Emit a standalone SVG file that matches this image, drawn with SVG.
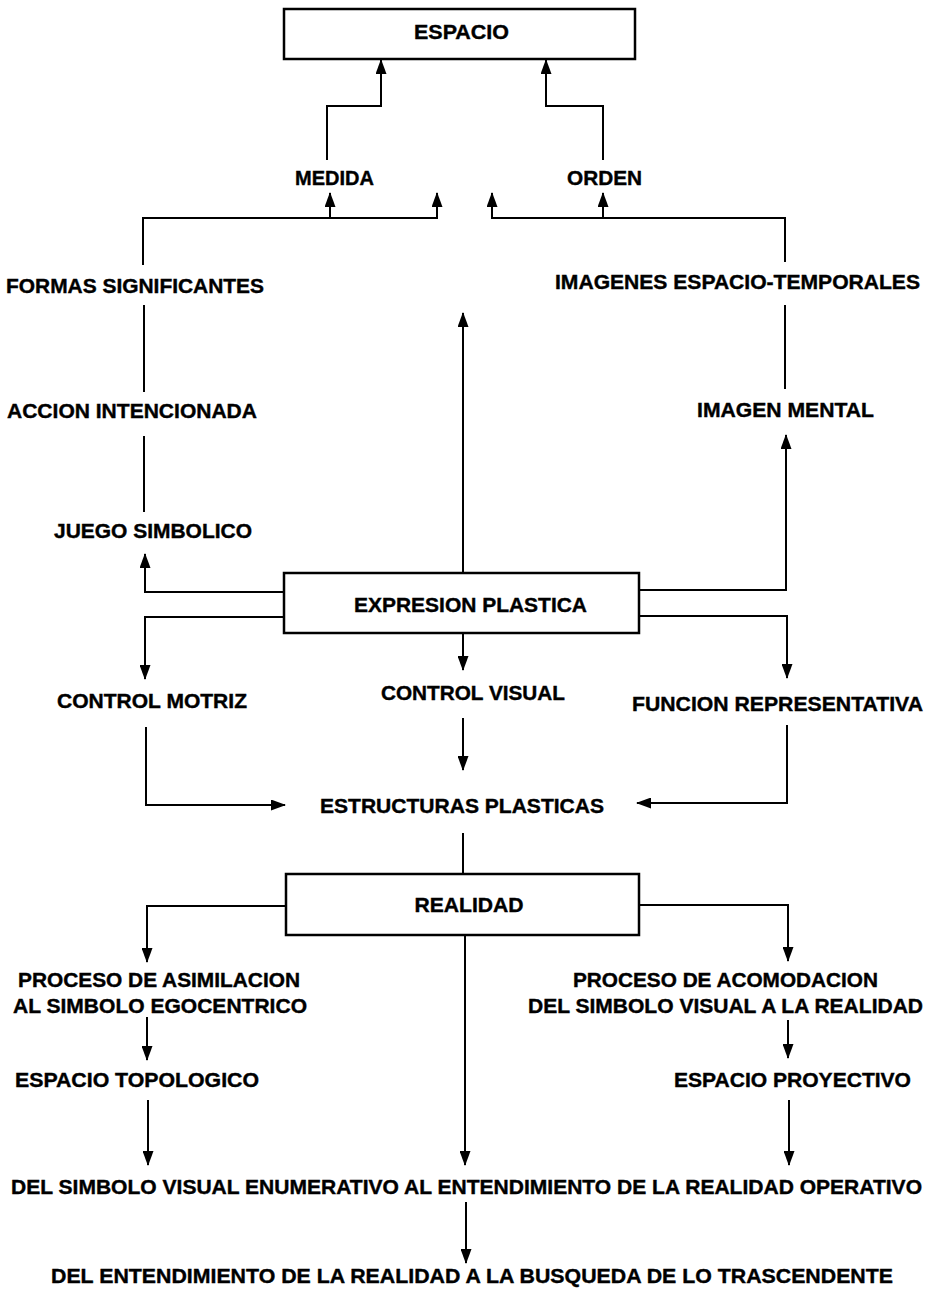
<svg xmlns="http://www.w3.org/2000/svg" width="940" height="1296" viewBox="0 0 940 1296">
<defs>
<marker id="ah" viewBox="0 0 15 11" refX="14" refY="5.5" markerWidth="15" markerHeight="11" markerUnits="userSpaceOnUse" orient="auto">
<path d="M0,0 L15,5.5 L0,11 z" fill="#000"/>
</marker>
<style>
text{font-family:"Liberation Sans",Arial,sans-serif;font-weight:bold;font-size:21px;fill:#000;stroke:#000;stroke-width:0.4;text-anchor:middle}
.box{fill:#fff;stroke:#000;stroke-width:2.5}
.c{fill:none;stroke:#000;stroke-width:2}
.a{fill:none;stroke:#000;stroke-width:2;marker-end:url(#ah)}
</style>
</defs>
<rect width="940" height="1296" fill="#fff"/>
<g id="connectors">
<path class="a" d="M327,160 V106 H381 V60"/>
<path class="a" d="M603,160 V106 H546 V60"/>
<path class="a" d="M143,265 V218 H437 V193"/>
<path class="a" d="M330,218 V193"/>
<path class="a" d="M785,262 V218 H492 V193"/>
<path class="a" d="M603,218 V193"/>
<path class="c" d="M144,305 V392"/>
<path class="c" d="M144,436 V512"/>
<path class="c" d="M785,305 V389"/>
<path class="a" d="M463,573 V313"/>
<path class="a" d="M284,592 H145 V554"/>
<path class="a" d="M284,617 H145 V679"/>
<path class="a" d="M639,590 H786 V435"/>
<path class="a" d="M639,616 H787 V678"/>
<path class="a" d="M463,633 V670"/>
<path class="a" d="M146,727 V805 H285"/>
<path class="a" d="M463,718 V770"/>
<path class="a" d="M787,725 V803 H637"/>
<path class="c" d="M463,833 V874"/>
<path class="a" d="M286,906 H147 V962"/>
<path class="a" d="M639,905 H788 V961"/>
<path class="a" d="M465,935 V1165"/>
<path class="a" d="M147,1017 V1060"/>
<path class="a" d="M788,1020 V1058"/>
<path class="a" d="M148,1100 V1165"/>
<path class="a" d="M789,1100 V1165"/>
<path class="a" d="M466,1202 V1263"/>
</g>
<g id="espacio"><rect class="box" x="284" y="9" width="351" height="50"/><text x="461.5" y="39" textLength="95" lengthAdjust="spacingAndGlyphs">ESPACIO</text></g>
<g id="medida"><text x="334.5" y="185" textLength="79" lengthAdjust="spacingAndGlyphs">MEDIDA</text></g>
<g id="orden"><text x="604.5" y="185" textLength="75" lengthAdjust="spacingAndGlyphs">ORDEN</text></g>
<g id="formas"><text x="135" y="293" textLength="258" lengthAdjust="spacingAndGlyphs">FORMAS SIGNIFICANTES</text></g>
<g id="imagenes"><text x="737.5" y="289" textLength="365" lengthAdjust="spacingAndGlyphs">IMAGENES ESPACIO-TEMPORALES</text></g>
<g id="accion"><text x="132" y="418" textLength="250" lengthAdjust="spacingAndGlyphs">ACCION INTENCIONADA</text></g>
<g id="imagen-mental"><text x="785.5" y="417" textLength="177" lengthAdjust="spacingAndGlyphs">IMAGEN MENTAL</text></g>
<g id="juego"><text x="153" y="538" textLength="198" lengthAdjust="spacingAndGlyphs">JUEGO SIMBOLICO</text></g>
<g id="expresion"><rect class="box" x="284" y="573" width="355" height="60"/><text x="470.5" y="612" textLength="233" lengthAdjust="spacingAndGlyphs">EXPRESION PLASTICA</text></g>
<g id="control-motriz"><text x="152" y="708" textLength="190" lengthAdjust="spacingAndGlyphs">CONTROL MOTRIZ</text></g>
<g id="control-visual"><text x="473" y="700" textLength="184" lengthAdjust="spacingAndGlyphs">CONTROL VISUAL</text></g>
<g id="funcion"><text x="777.5" y="711" textLength="291" lengthAdjust="spacingAndGlyphs">FUNCION REPRESENTATIVA</text></g>
<g id="estructuras"><text x="462" y="813" textLength="284" lengthAdjust="spacingAndGlyphs">ESTRUCTURAS PLASTICAS</text></g>
<g id="realidad"><rect class="box" x="286" y="874" width="353" height="61"/><text x="469" y="912" textLength="109" lengthAdjust="spacingAndGlyphs">REALIDAD</text></g>
<g id="asimilacion"><text x="159" y="987" textLength="282" lengthAdjust="spacingAndGlyphs">PROCESO DE ASIMILACION</text><text x="160" y="1013" textLength="294" lengthAdjust="spacingAndGlyphs">AL SIMBOLO EGOCENTRICO</text></g>
<g id="acomodacion"><text x="725.5" y="987" textLength="305" lengthAdjust="spacingAndGlyphs">PROCESO DE ACOMODACION</text><text x="725.5" y="1013" textLength="395" lengthAdjust="spacingAndGlyphs">DEL SIMBOLO VISUAL A LA REALIDAD</text></g>
<g id="topologico"><text x="137" y="1087" textLength="244" lengthAdjust="spacingAndGlyphs">ESPACIO TOPOLOGICO</text></g>
<g id="proyectivo"><text x="792.5" y="1087" textLength="237" lengthAdjust="spacingAndGlyphs">ESPACIO PROYECTIVO</text></g>
<g id="operativo"><text x="466.5" y="1194" textLength="911" lengthAdjust="spacingAndGlyphs">DEL SIMBOLO VISUAL ENUMERATIVO AL ENTENDIMIENTO DE LA REALIDAD OPERATIVO</text></g>
<g id="trascendente"><text x="472" y="1283" textLength="842" lengthAdjust="spacingAndGlyphs">DEL ENTENDIMIENTO DE LA REALIDAD A LA BUSQUEDA DE LO TRASCENDENTE</text></g>
</svg>
